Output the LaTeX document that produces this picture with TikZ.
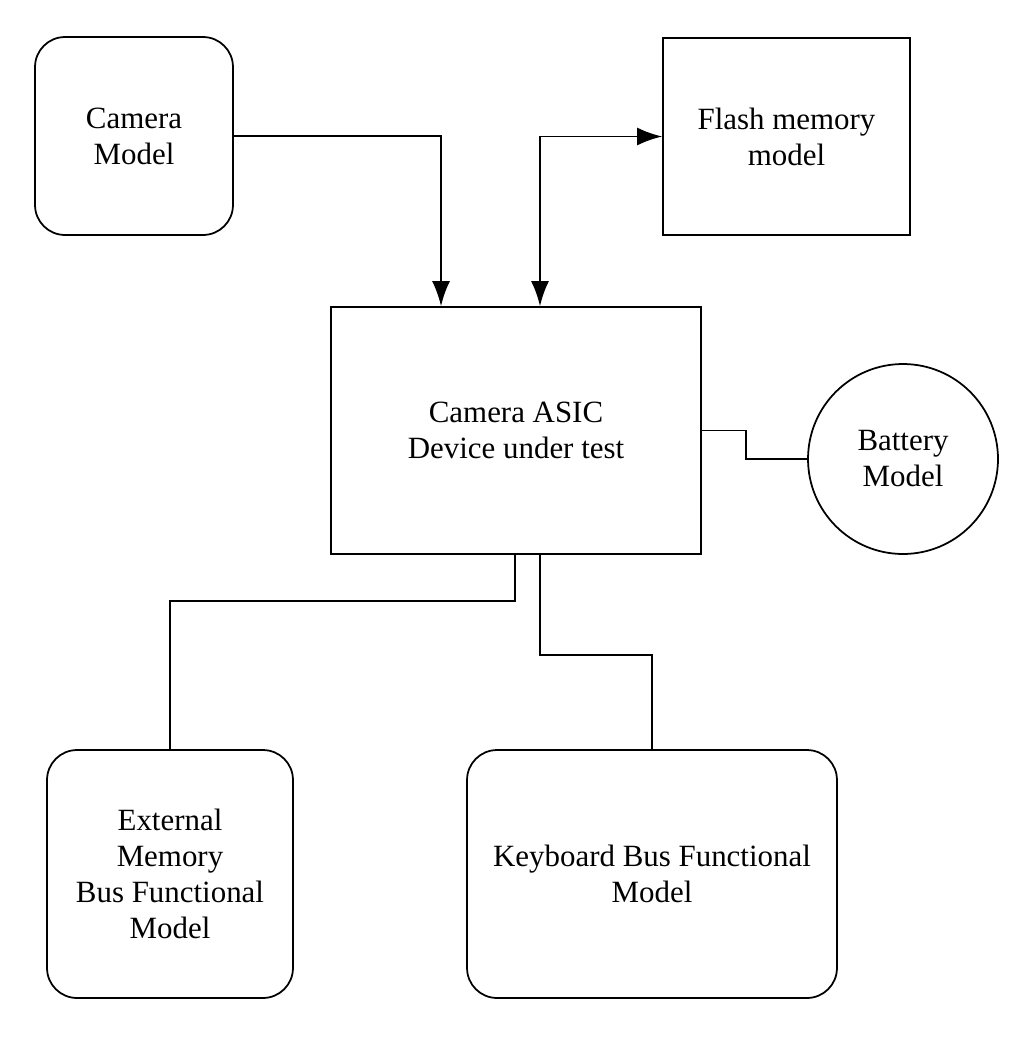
\documentclass[tikz,border=0pt]{standalone}
\usepackage{fontspec}
\setmainfont{Liberation Serif}
\usetikzlibrary{arrows.meta}

\begin{document}
\begin{tikzpicture}[x=0.02cm,y=-0.02cm]
\tikzstyle{every node}+=[inner sep=0pt, align=center, font=\fontsize{17.6}{20.5}\selectfont]
\tikzstyle{blk}=[draw, line width=1pt]
\tikzstyle{rblk}=[blk, rounded corners=0.6cm]
\tikzstyle{wire}=[line width=1.1pt]
\tikzstyle{arr}=[wire, -{Latex[length=5mm,width=3.6mm]}]
\useasboundingbox (0,0) rectangle (1032,1038);
% models round the device
\node [rblk, minimum width=3.96cm, minimum height=3.96cm] (cam) at (134,136) {Camera\\Model};
\node [blk, minimum width=4.94cm, minimum height=3.94cm] (flash) at (786.5,136.5) {Flash memory\\model};
\node [blk, minimum width=7.4cm, minimum height=4.94cm] (asic) at (516,430.5) {Camera ASIC\\Device under test};
\node [blk, circle, minimum size=3.8cm] (bat) at (903,459) {Battery\\Model};
\node [rblk, minimum width=4.92cm, minimum height=4.96cm] (ext) at (170,874) {External\\Memory\\Bus Functional\\Model};
\node [rblk, minimum width=7.4cm, minimum height=4.96cm] (kbd) at (652,874) {Keyboard Bus Functional\\Model};
% connections
\draw [arr] (cam.east) -| ([xshift=-1.5cm]asic.north);
\draw [arr, {Latex[length=5mm,width=3.6mm]}-{Latex[length=5mm,width=3.6mm]}] (flash.west) -| ([xshift=0.48cm]asic.north);
\draw [wire] (asic.east) -- ++(44,0) |- (bat.west);
\draw [wire] ([xshift=-0.02cm]asic.south) -- ++(0,46) -| (ext.north);
\draw [wire] ([xshift=0.48cm]asic.south) -- ++(0,100) -| (kbd.north);
\end{tikzpicture}
\end{document}
